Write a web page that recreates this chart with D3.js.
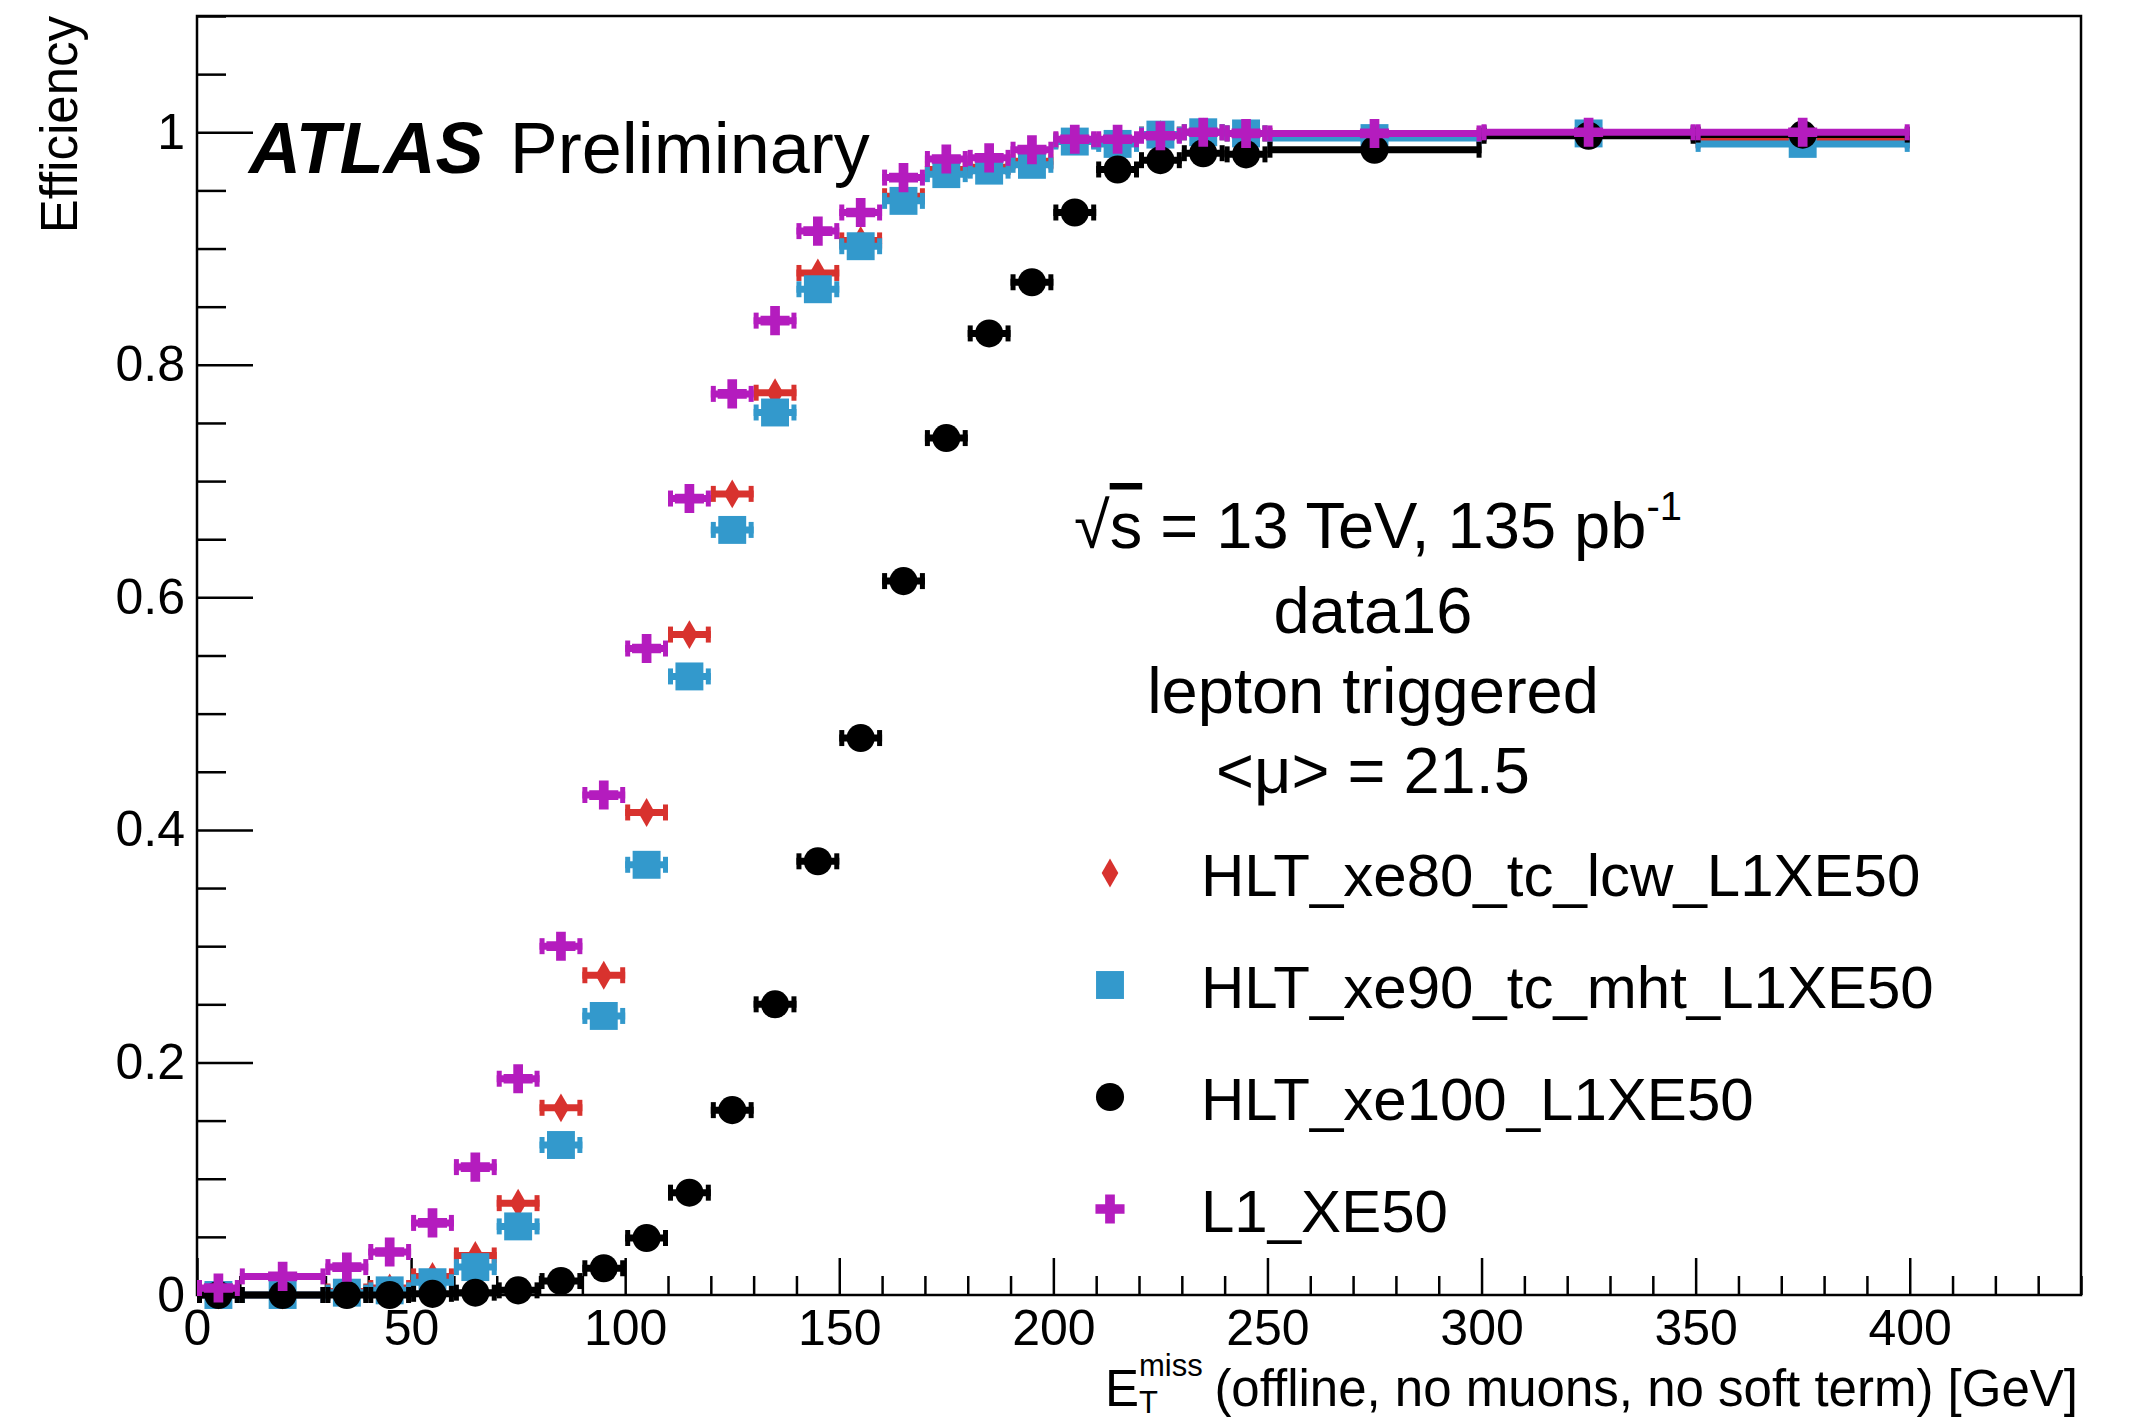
<!DOCTYPE html>
<html>
<head>
<meta charset="utf-8">
<script src="https://cdn.jsdelivr.net/npm/d3@7"></script>
<style>
  body { margin: 0; background: #fff; }
  svg { display: block; }
  text { font-family: "Liberation Sans", Arial, Helvetica, sans-serif; fill: #000; }
</style>
</head>
<body>
<svg id="chart" width="2136" height="1422"></svg>
<script>
// bin edges in GeV (variable width)
const binEdges = [0, 10, 30, 40, 50, 60, 70, 80, 90, 100, 110, 120, 130, 140, 150, 160,
  170, 180, 190, 200, 210, 220, 230, 240, 250, 300, 350, 400];

// efficiencies, one per bin
const effXe80 = [0, 0, 0.003, 0.006, 0.016, 0.034, 0.079, 0.161, 0.275, 0.415, 0.568, 0.689,
  0.776, 0.879, 0.907, 0.945, 0.968, 0.970, 0.975, 0.993, 0.992, 0.998, 1.0, 0.999, 0.997, 0.999, 0.993];
const effXe90 = [0, 0, 0.002, 0.004, 0.011, 0.024, 0.059, 0.129, 0.240, 0.370, 0.532, 0.658,
  0.759, 0.865, 0.902, 0.941, 0.964, 0.967, 0.972, 0.992, 0.990, 0.998, 1.0, 0.999, 0.995, 0.999, 0.990];
const effXe100 = [0, 0, 0, 0, 0.001, 0.002, 0.004, 0.012, 0.023, 0.049, 0.088, 0.159,
  0.250, 0.373, 0.479, 0.614, 0.737, 0.827, 0.871, 0.931, 0.968, 0.976, 0.982, 0.981, 0.985, 0.997, 0.998];
const effL1 = [0.006, 0.016, 0.024, 0.037, 0.062, 0.110, 0.186, 0.300, 0.430, 0.556, 0.685, 0.775,
  0.838, 0.915, 0.931, 0.961, 0.977, 0.978, 0.985, 0.994, 0.994, 0.997, 1.0, 0.999, 0.999, 1.0, 1.0];

const seriesNames = ["HLT_xe80_tc_lcw_L1XE50", "HLT_xe90_tc_mht_L1XE50", "HLT_xe100_L1XE50", "L1_XE50"];

const xMajor = [0, 50, 100, 150, 200, 250, 300, 350, 400];
const yMajor = [0, 0.2, 0.4, 0.6, 0.8, 1];

const infoLines = ["data16", "lepton triggered", "<\u03bc> = 21.5"];

const svg = d3.select("#chart");
const W = 2136, H = 1422;
const margin = { left: 197, right: 55, top: 16, bottom: 127 };

const x = d3.scaleLinear().domain([0, 440]).range([margin.left, W - margin.right]);
const y = d3.scaleLinear().domain([0, 1.1]).range([H - margin.bottom, margin.top]);

const series = [
  { name: seriesNames[0], values: effXe80, color: "#d8322e", shape: d3.symbolDiamond, size: 240 },
  { name: seriesNames[1], values: effXe90, color: "#3399cc", shape: d3.symbolSquare, size: 780 },
  { name: seriesNames[2], values: effXe100, color: "#000000", shape: d3.symbolCircle, size: 620 },
  { name: seriesNames[3], values: effL1, color: "#b41cbe", shape: d3.symbolCross, size: 470 }
];

// frame
svg.append("rect")
  .attr("x", x(0)).attr("y", y(1.1))
  .attr("width", x(440) - x(0)).attr("height", y(0) - y(1.1))
  .attr("fill", "none").attr("stroke", "#000").attr("stroke-width", 2.5);

// x axis
const xMinor = d3.range(10, 441, 10).filter(v => v % 50 !== 0);
svg.append("g")
  .attr("transform", `translate(0,${y(0)})`)
  .call(d3.axisBottom(x).tickValues(xMinor).tickSizeInner(-19).tickSizeOuter(0).tickFormat(""))
  .call(g => g.select(".domain").remove())
  .call(g => g.selectAll("line").attr("stroke-width", 2.5));

svg.append("g")
  .attr("transform", `translate(0,${y(0)})`)
  .call(d3.axisBottom(x).tickValues(xMajor).tickSizeInner(-37).tickSizeOuter(0).tickPadding(14))
  .call(g => g.select(".domain").remove())
  .call(g => g.selectAll("line").attr("stroke-width", 2.5))
  .call(g => g.selectAll("text").attr("font-size", 50).attr("font-family", null));

// y axis
const yMinor = d3.range(1, 23).map(i => i * 0.05).filter((v, i) => (i + 1) % 4 !== 0);
svg.append("g")
  .attr("transform", `translate(${x(0)},0)`)
  .call(d3.axisLeft(y).tickValues(yMinor).tickSizeInner(-29).tickSizeOuter(0).tickFormat(""))
  .call(g => g.select(".domain").remove())
  .call(g => g.selectAll("line").attr("stroke-width", 2.5));

svg.append("g")
  .attr("transform", `translate(${x(0)},0)`)
  .call(d3.axisLeft(y).tickValues(yMajor).tickSizeInner(-56).tickSizeOuter(0).tickPadding(12)
    .tickFormat(d3.format("~g")))
  .call(g => g.select(".domain").remove())
  .call(g => g.selectAll("line").attr("stroke-width", 2.5))
  .call(g => g.selectAll("text").attr("font-size", 50).attr("font-family", null));

// axis titles
svg.append("text")
  .attr("transform", `translate(77,${y(1.1)}) rotate(-90)`)
  .attr("text-anchor", "end")
  .attr("font-size", 51)
  .text("Efficiency");

svg.append("text")
  .attr("x", x(440) - 3).attr("y", 1406)
  .attr("text-anchor", "end").attr("font-size", 51)
  .text("(offline, no muons, no soft term) [GeV]");
svg.append("text").attr("x", 1105).attr("y", 1406).attr("font-size", 51).text("E");
svg.append("text").attr("x", 1139).attr("y", 1376).attr("font-size", 31).text("miss");
svg.append("text").attr("x", 1139).attr("y", 1413).attr("font-size", 31).text("T");

// data points with horizontal bin-width error bars
const bins = d3.range(binEdges.length - 1).map(i => ({
  lo: binEdges[i], hi: binEdges[i + 1], mid: (binEdges[i] + binEdges[i + 1]) / 2
}));

series.forEach(s => {
  const g = svg.append("g").attr("fill", s.color).attr("stroke", s.color);
  const pts = bins.map((b, i) => ({ ...b, v: s.values[i] }));

  g.selectAll("line.bar").data(pts).enter().append("line")
    .attr("class", "bar")
    .attr("x1", d => x(d.lo)).attr("x2", d => x(d.hi))
    .attr("y1", d => y(d.v)).attr("y2", d => y(d.v))
    .attr("stroke-width", 7);

  g.selectAll("line.capl").data(pts).enter().append("line")
    .attr("x1", d => x(d.lo) + 2.5).attr("x2", d => x(d.lo) + 2.5)
    .attr("y1", d => y(d.v) - 8).attr("y2", d => y(d.v) + 8)
    .attr("stroke-width", 5);

  g.selectAll("line.capr").data(pts).enter().append("line")
    .attr("x1", d => x(d.hi) - 2.5).attr("x2", d => x(d.hi) - 2.5)
    .attr("y1", d => y(d.v) - 8).attr("y2", d => y(d.v) + 8)
    .attr("stroke-width", 5);

  g.selectAll("path").data(pts).enter().append("path")
    .attr("d", d3.symbol().type(s.shape).size(s.size))
    .attr("stroke", "none")
    .attr("transform", d => `translate(${x(d.mid)},${y(d.v)})`);
});

// labels
const atlas = svg.append("text").attr("x", 249).attr("y", 173).attr("font-size", 72);
atlas.append("tspan").attr("font-weight", "bold").attr("font-style", "italic").text("ATLAS");
atlas.append("tspan").attr("dx", 26).text("Preliminary");

const energy = svg.append("text")
  .attr("x", 1378).attr("y", 548).attr("text-anchor", "middle").attr("font-size", 65);
energy.append("tspan").text("\u221a");
energy.append("tspan").attr("text-decoration", "overline").text("s");
energy.append("tspan").text(" = 13 TeV, 135 pb");
energy.append("tspan").attr("font-size", 40).attr("dy", -28).text("-1");

svg.selectAll("text.info").data(infoLines).enter().append("text")
  .attr("class", "info")
  .attr("x", 1373).attr("y", (d, i) => 633 + i * 80)
  .attr("text-anchor", "middle").attr("font-size", 65)
  .text(d => d);

// legend
const legend = svg.append("g").attr("transform", "translate(1110,873)");
series.forEach((s, i) => {
  const row = legend.append("g").attr("transform", `translate(0,${i * 112})`);
  row.append("path")
    .attr("d", d3.symbol().type(s.shape).size(s.size))
    .attr("fill", s.color);
  row.append("text")
    .attr("x", 91).attr("y", 23)
    .attr("font-size", 60)
    .text(s.name);
});
</script>
</body>
</html>
